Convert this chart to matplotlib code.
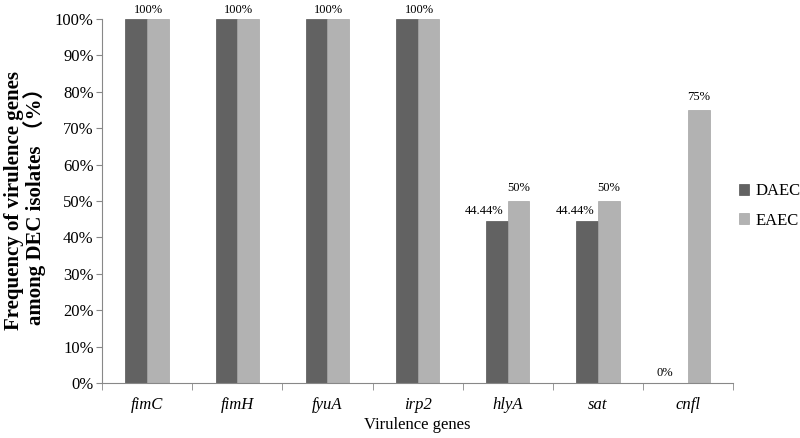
import numpy as np
import matplotlib.pyplot as plt
from matplotlib.ticker import PercentFormatter

genes = ["fimC", "fimH", "fyuA", "irp2", "hlyA", "sat", "cnfl"]
daec = [100, 100, 100, 100, 44.44, 44.44, 0]
eaec = [100, 100, 100, 100, 50, 50, 75]
daec_labels = ["", "", "", "", "44.44%", "44.44%", "0%"]
eaec_labels = ["", "", "", "", "50%", "50%", "75%"]
pair_labels = ["100%", "100%", "100%", "100%", "", "", ""]

plt.rcParams["font.family"] = ["Liberation Serif", "DejaVu Serif"]

fig = plt.figure(figsize=(8, 4.38), dpi=100)
ax = fig.add_axes([0.1275, 0.1256, 0.789, 0.831])

x = np.arange(len(genes))
w = 0.24
dark = "#626262"
light = "#b2b2b2"
ax.bar(x - w / 2, daec, w, color=dark, edgecolor="#555555", linewidth=0.5, label="DAEC")
ax.bar(x + w / 2, eaec, w, color=light, edgecolor="#a5a5a5", linewidth=0.5, label="EAEC")

# value labels
for i in range(len(genes)):
    if pair_labels[i]:
        ax.annotate(pair_labels[i], (x[i], max(daec[i], eaec[i])), xytext=(1, 2),
                    textcoords="offset points", ha="center", va="bottom", fontsize=9)
    if daec_labels[i]:
        ax.annotate(daec_labels[i], (x[i] - w / 2, daec[i]), xytext=(-9, 3),
                    textcoords="offset points", ha="center", va="bottom", fontsize=9)
    if eaec_labels[i]:
        ax.annotate(eaec_labels[i], (x[i] + w / 2, eaec[i]), xytext=(0, 5),
                    textcoords="offset points", ha="center", va="bottom", fontsize=9)

ax.set_xlim(-0.5, len(genes) - 0.5)
ax.set_ylim(0, 100)
ax.set_yticks(np.arange(0, 101, 10))
ax.yaxis.set_major_formatter(PercentFormatter(decimals=0))
ax.tick_params(axis="y", labelsize=12, length=4, color="#888888", pad=2)

ax.set_xticks(x)
ax.set_xticklabels(genes, fontstyle="italic", fontsize=12)
ax.tick_params(axis="x", which="major", length=0, pad=10)
ax.set_xticks(np.arange(-0.5, len(genes), 1), minor=True)
ax.tick_params(axis="x", which="minor", length=5, color="#888888")

for s in ["top", "right"]:
    ax.spines[s].set_visible(False)
for s in ["left", "bottom"]:
    ax.spines[s].set_color("#888888")

ax.set_xlabel("Virulence genes", fontsize=12, labelpad=3)
ax.set_ylabel("Frequency of virulence genes\namong DEC isolates \uff08%\uff09",
              fontsize=15, fontweight="bold", labelpad=6, linespacing=0.95,
              family=["Liberation Serif", "Noto Sans CJK SC"])

fig.legend(loc="center left", bbox_to_anchor=(0.924, 0.53), frameon=False,
           fontsize=12, handlelength=0.6, handleheight=0.6, handletextpad=0.35,
           labelspacing=0.8, borderpad=0, borderaxespad=0)

fig.savefig("out.png", dpi=100)
